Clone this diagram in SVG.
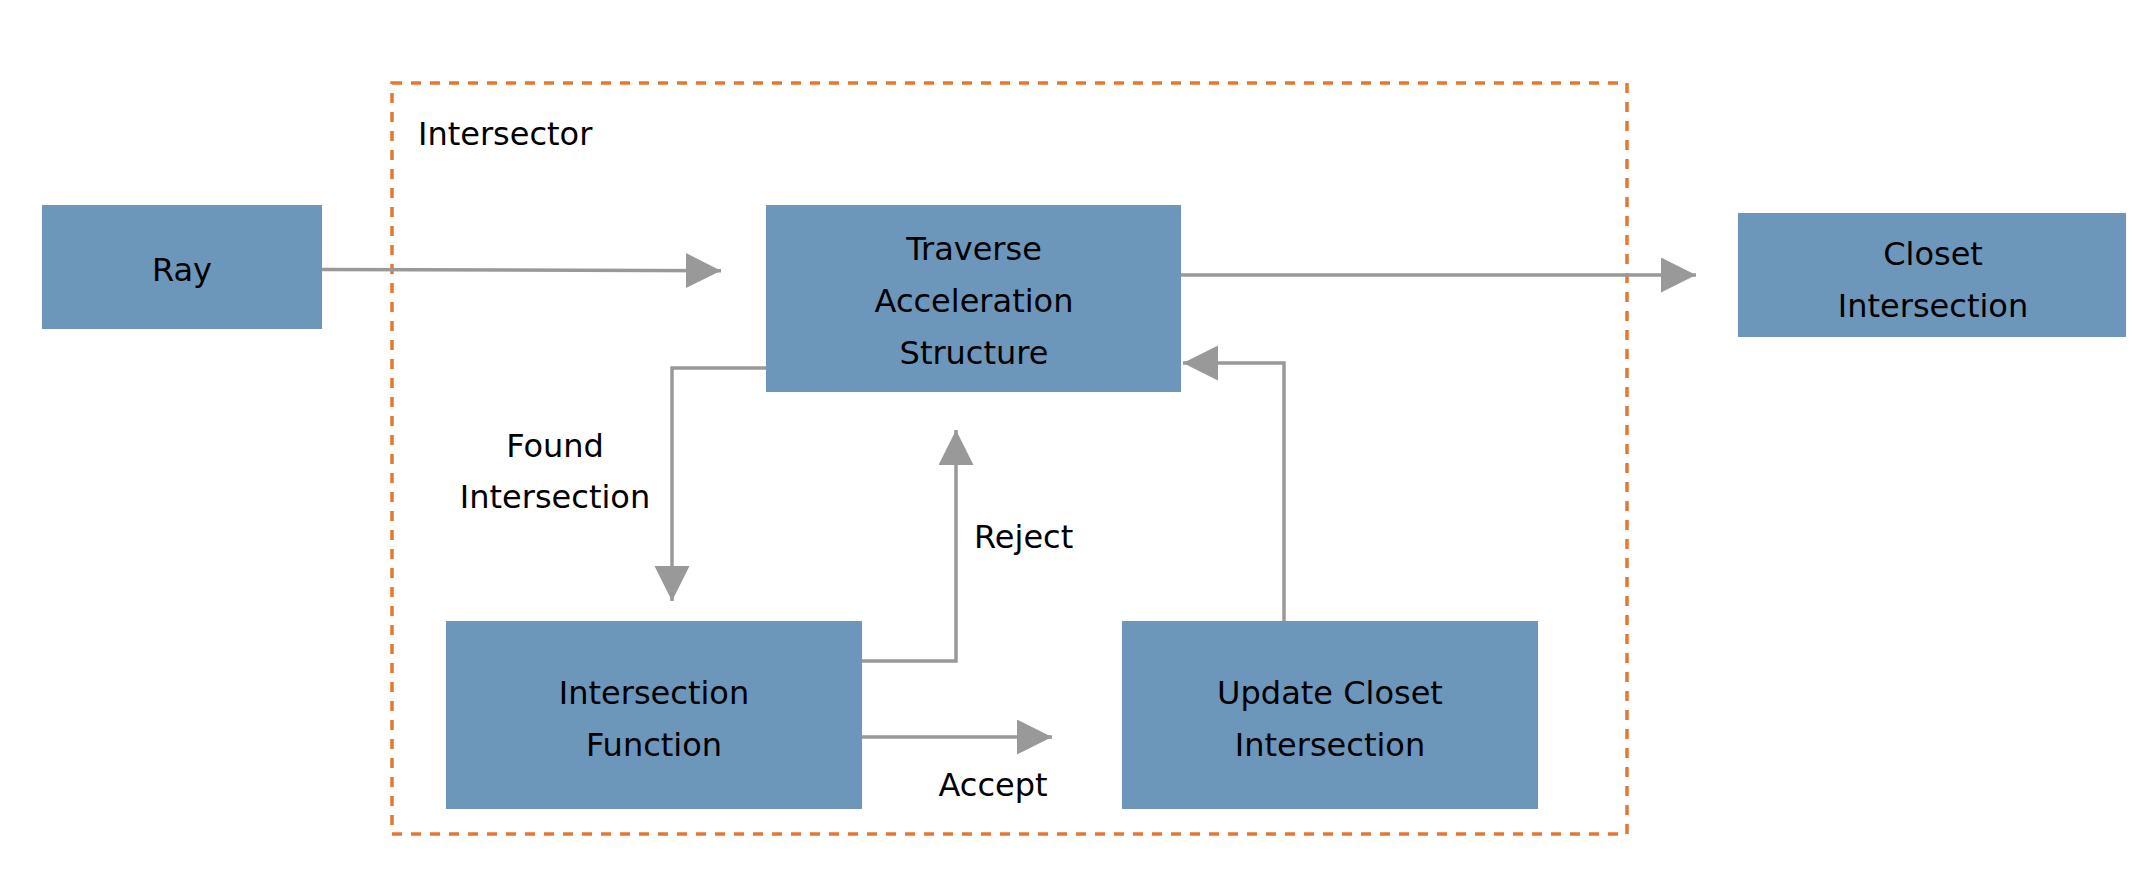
<svg xmlns="http://www.w3.org/2000/svg" width="2154" height="890" viewBox="0 0 2154 890">
<style>
.box{fill:#6c96ba}
.t{font-family:"DejaVu Sans","Liberation Sans",sans-serif;font-size:32px;fill:#000;text-anchor:middle}
.lbl{font-family:"DejaVu Sans","Liberation Sans",sans-serif;font-size:32px;fill:#000}
.c{fill:none;stroke:#999;stroke-width:3.5;marker-end:url(#ah)}
</style>
<defs>
<marker id="ah" markerUnits="userSpaceOnUse" markerWidth="36" markerHeight="36" refX="35" refY="17.5" orient="auto" viewBox="0 0 36 36">
<path d="M0,0 L35,17.5 L0,35 z" fill="#999"/>
</marker>
</defs>
<rect width="2154" height="890" fill="#fff"/>
<g id="intersector">
<rect x="392" y="83" width="1235" height="751" fill="none" stroke="#e5772f" stroke-width="3.5" stroke-dasharray="10 9"/>
<text class="lbl" x="418" y="145">Intersector</text>
</g>
<g id="connectors">
<path class="c" d="M322,269.5 L721,270.7"/>
<path class="c" d="M1181,275 L1696,275"/>
<path class="c" d="M1284,621 L1284,363 L1183,363"/>
<path class="c" d="M862,661 L956,661 L956,430"/>
<path class="c" d="M766,368 L672,368 L672,601"/>
<path class="c" d="M862,737 L1052,737"/>
<text class="t" x="555" y="457">Found</text>
<text class="t" x="555" y="508">Intersection</text>
<text class="lbl" x="974" y="548">Reject</text>
<text class="t" x="993" y="796">Accept</text>
</g>
<g id="ray">
<rect class="box" x="42" y="205" width="280" height="124"/>
<text class="t" x="182" y="281">Ray</text>
</g>
<g id="traverse">
<rect class="box" x="766" y="205" width="415" height="187"/>
<text class="t" x="974" y="260">Traverse</text>
<text class="t" x="974" y="312">Acceleration</text>
<text class="t" x="974" y="364">Structure</text>
</g>
<g id="closet">
<rect class="box" x="1738" y="213" width="388" height="124"/>
<text class="t" x="1933" y="265">Closet</text>
<text class="t" x="1933" y="317">Intersection</text>
</g>
<g id="intersection-function">
<rect class="box" x="446" y="621" width="416" height="188"/>
<text class="t" x="654" y="704">Intersection</text>
<text class="t" x="654" y="756">Function</text>
</g>
<g id="update">
<rect class="box" x="1122" y="621" width="416" height="188"/>
<text class="t" x="1330" y="704">Update Closet</text>
<text class="t" x="1330" y="756">Intersection</text>
</g>
</svg>
